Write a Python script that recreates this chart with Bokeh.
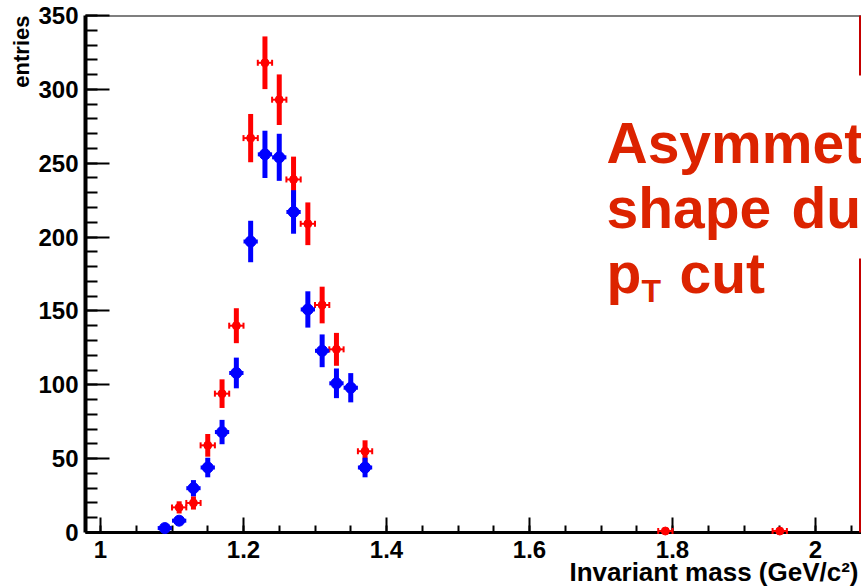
import numpy as np
from bokeh.plotting import figure
from bokeh.models import Range1d, SingleIntervalTicker, CustomJSTickFormatter, Label, Span, Title
from bokeh.embed import file_html
from bokeh.resources import INLINE

# Invariant-mass spectra, 0.02 GeV/c^2 bins (bin centres and entries)
blue_mass = [1.09, 1.11, 1.13, 1.15, 1.17, 1.19, 1.21, 1.23, 1.25, 1.27,
             1.29, 1.31, 1.33, 1.35, 1.37]
blue_entries = [3, 8, 30, 44, 68, 108, 197, 256, 254, 217,
                151, 123, 101, 98, 44]

red_mass = [1.11, 1.13, 1.15, 1.17, 1.19, 1.21, 1.23, 1.25, 1.27, 1.29,
            1.31, 1.33, 1.37, 1.79, 1.95]
red_entries = [17, 20, 59, 94, 140, 267, 318, 293, 239, 209,
               154, 124, 55, 1, 1]

bin_width = 0.02

# canvas / frame geometry (pixels)
W, H = 861, 588
LEFT, TOP, BOTTOM = 85, 15, 56
X0, X1 = 1 - 15 / 715, 1 - 15 / 715 + (W - LEFT) / 715
Y0, Y1 = 0, 350

FONT = "Liberation Sans"
TXT_RED = "#dc2300"


def px_x(px):
    return X0 + (px - LEFT) * (X1 - X0) / (W - LEFT)


def px_y(py):
    return Y1 - (py - TOP) * (Y1 - Y0) / (H - BOTTOM - TOP)


p = figure(width=W, height=H, output_backend="svg", toolbar_location=None,
           x_range=Range1d(X0, X1), y_range=Range1d(Y0, Y1),
           min_border_left=LEFT, min_border_right=0,
           min_border_top=TOP, min_border_bottom=BOTTOM)
p.outline_line_color = None
p.background_fill_color = "white"
p.border_fill_color = "white"
p.xgrid.visible = False
p.ygrid.visible = False

# axes in the style of a ROOT frame: ticks pointing inwards
p.xaxis.ticker = SingleIntervalTicker(interval=0.2, num_minor_ticks=4)
p.yaxis.ticker = SingleIntervalTicker(interval=50, num_minor_ticks=5)
p.xaxis.formatter = CustomJSTickFormatter(code="return String(parseFloat(tick.toFixed(2)));")
for ax, tin, tmin, lw in ((p.xaxis, 15, 7, 3), (p.yaxis, 24, 12, 4)):
    ax.major_tick_in = tin
    ax.major_tick_out = 0
    ax.minor_tick_in = tmin
    ax.minor_tick_out = 0
    ax.axis_line_width = lw
    ax.axis_line_color = "black"
    ax.major_tick_line_width = 2
    ax.minor_tick_line_width = 2
    ax.major_tick_line_color = "black"
    ax.minor_tick_line_color = "black"
    ax.major_label_text_font = FONT
    ax.major_label_text_font_style = "bold"
    ax.major_label_text_font_size = "24px"
    ax.major_label_text_color = "black"
p.xaxis.major_label_standoff = 8
p.yaxis.major_label_standoff = 7

# axis titles, right-aligned to the far end of each axis
title_style = dict(text_font=FONT, text_font_style="bold", text_color="black",
                   align="right", background_fill_color=None)
p.add_layout(Title(text="Invariant mass (GeV/c\u00b2)", text_font_size="26px",
                   standoff=-12, offset=3, **title_style), "below")
p.add_layout(Title(text="entries", text_font_size="22px", standoff=3, **title_style), "left")

# top edge of the frame
p.add_layout(Span(location=Y1, dimension="width", line_color="black", line_width=2))

# red boundary line on the right
edge_x = px_x(859.5)
edge = p.segment(x0=[edge_x, edge_x], y0=[Y1, px_y(258)], x1=[edge_x, edge_x],
                 y1=[px_y(75), Y0], line_color="#c40000", line_width=2)

# red histogram: Poisson error bars, half-bin horizontal bars with end caps
rm = np.array(red_mass)
rv = np.array(red_entries, dtype=float)
re = np.sqrt(rv)
hb = bin_width / 2
rs = [
    p.segment(x0=rm, y0=rv - re, x1=rm, y1=rv + re, line_color="#ff0000", line_width=5),
    p.segment(x0=rm - hb, y0=rv, x1=rm + hb, y1=rv, line_color="#ff0000", line_width=2),
    p.scatter(x=np.concatenate([rm - hb, rm + hb]), y=np.concatenate([rv, rv]),
              marker="dash", angle=np.pi / 2, size=6, line_color="#ff0000", line_width=2),
    p.scatter(x=rm, y=rv, marker="circle", size=8, fill_color="#ff0000", line_color="#ff0000"),
]

# blue histogram
bm = np.array(blue_mass)
bv = np.array(blue_entries, dtype=float)
be = np.sqrt(bv)
bs = [
    p.segment(x0=bm, y0=bv - be, x1=bm, y1=bv + be, line_color="#0000ff", line_width=5),
    p.segment(x0=bm - hb, y0=bv, x1=bm + hb, y1=bv, line_color="#0000ff", line_width=4),
    p.scatter(x=bm, y=bv, marker="circle", size=11, fill_color="#0000ff", line_color="#0000ff"),
]
for r in [edge] + rs + bs:
    r.level = "overlay"

# annotation
big = dict(text_font=FONT, text_font_style="bold", text_color=TXT_RED,
           text_baseline="alphabetic", text_align="left")
p.add_layout(Label(x=px_x(606), y=px_y(142), text="Asymmetric", text_font_size="57px", **big))
p.add_layout(Label(x=px_x(606), y=px_y(207), text="shape", text_font_size="57px", **big))
p.add_layout(Label(x=px_x(791), y=px_y(207), text="due to", text_font_size="57px", **big))
p.add_layout(Label(x=px_x(606), y=px_y(272), text="p", text_font_size="57px", **big))
p.add_layout(Label(x=px_x(641), y=px_y(290), text="T", text_font_size="32px", **big))
p.add_layout(Label(x=px_x(679), y=px_y(272), text="cut", text_font_size="57px", **big))

open("out.html", "w").write(file_html(p, INLINE))
